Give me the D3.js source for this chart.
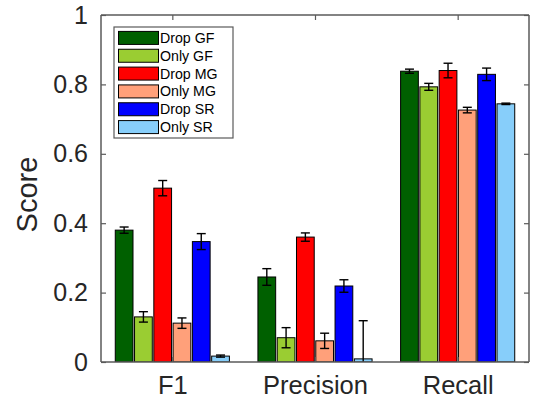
<!DOCTYPE html>
<html><head><meta charset="utf-8">
<script src="https://cdn.jsdelivr.net/npm/d3@7"></script>
<style>body{margin:0;background:#fff;} svg{display:block;font-family:"Liberation Sans",Arial,Helvetica,sans-serif;}</style>
</head><body>
<script>
const categories = ["F1", "Precision", "Recall"];
const seriesNames = ["Drop GF", "Only GF", "Drop MG", "Only MG", "Drop SR", "Only SR"];
const seriesColors = ["#006000", "#9acd32", "#ff0000", "#ffa07a", "#0000ff", "#87cefa"];
// values[series][category]
const dropGF = [0.380, 0.245, 0.838];
const onlyGF = [0.130, 0.070, 0.793];
const dropMG = [0.501, 0.360, 0.840];
const onlyMG = [0.112, 0.061, 0.726];
const dropSR = [0.347, 0.219, 0.829];
const onlySR = [0.017, 0.009, 0.744];
const errDropGF = [0.009, 0.024, 0.006];
const errOnlyGF = [0.015, 0.029, 0.010];
const errDropMG = [0.022, 0.012, 0.021];
const errOnlyMG = [0.015, 0.022, 0.008];
const errDropSR = [0.023, 0.018, 0.018];
const errOnlySR = [0.003, 0.110, 0.002];
const yTicks = [0, 0.2, 0.4, 0.6, 0.8, 1];

const values = [dropGF, onlyGF, dropMG, onlyMG, dropSR, onlySR];
const errors = [errDropGF, errOnlyGF, errDropMG, errOnlyMG, errDropSR, errOnlySR];

const W = 534, H = 406;
const x0 = 101, x1 = 529, yTop = 15, yBot = 362;
const textColor = "#262626";
const axisColor = "#5a5a5a";

const svg = d3.select("body").append("svg").attr("width", W).attr("height", H);

const x = d3.scaleLinear().domain([0.5, 3.5]).range([x0, x1]);
const y = d3.scaleLinear().domain([0, 1]).range([yBot, yTop]);
const groupW = (x(1.8) - x(1));
const inner = d3.scaleBand().domain(seriesNames).range([-groupW/2, groupW/2]).paddingInner(0.08).paddingOuter(0.0);

svg.append("clipPath").attr("id", "clip").append("rect")
  .attr("x", x0).attr("y", yTop).attr("width", x1 - x0).attr("height", yBot - yTop);

const plot = svg.append("g").attr("clip-path", "url(#clip)");

seriesNames.forEach((s, si) => {
  plot.selectAll(".bar" + si).data(categories).enter().append("rect")
    .attr("x", (c, ci) => x(ci + 1) + inner(s))
    .attr("y", (c, ci) => y(values[si][ci]))
    .attr("width", inner.bandwidth())
    .attr("height", (c, ci) => y(0) - y(values[si][ci]))
    .attr("fill", seriesColors[si])
    .attr("stroke", "#000").attr("stroke-width", 1);
});

const cap = 4.5;
seriesNames.forEach((s, si) => {
  categories.forEach((c, ci) => {
    const cx = x(ci + 1) + inner(s) + inner.bandwidth() / 2;
    const v = values[si][ci], e = errors[si][ci];
    const g = plot.append("g").attr("stroke", "#000").attr("stroke-width", 1.4);
    g.append("line").attr("x1", cx).attr("x2", cx).attr("y1", y(v - e)).attr("y2", y(v + e));
    g.append("line").attr("x1", cx - cap).attr("x2", cx + cap).attr("y1", y(v + e)).attr("y2", y(v + e));
    g.append("line").attr("x1", cx - cap).attr("x2", cx + cap).attr("y1", y(v - e)).attr("y2", y(v - e));
  });
});

const axL = svg.append("g").attr("transform", `translate(${x0},0)`)
  .call(d3.axisLeft(y).tickValues(yTicks).tickSize(-5).tickFormat(d3.format("")).tickPadding(13));
const axR = svg.append("g").attr("transform", `translate(${x1},0)`)
  .call(d3.axisRight(y).tickValues(yTicks).tickSize(-5).tickFormat(""));
const axB = svg.append("g").attr("transform", `translate(0,${yBot})`)
  .call(d3.axisBottom(x).tickValues([1, 2, 3]).tickSize(-5).tickFormat((d) => categories[d - 1]).tickPadding(14));
const axT = svg.append("g").attr("transform", `translate(0,${yTop})`)
  .call(d3.axisTop(x).tickValues([1, 2, 3]).tickSize(-5).tickFormat(""));

[axL, axR, axB, axT].forEach(a => {
  a.selectAll("path.domain").attr("stroke", axisColor).attr("stroke-width", 1.5);
  a.selectAll(".tick line").attr("stroke", axisColor).attr("stroke-width", 1.2);
  a.selectAll("text").attr("fill", textColor).attr("font-size", 25).attr("font-family", "Liberation Sans, Arial, sans-serif");
});
axL.select("path.domain").attr("d", `M0,${yBot}V${yTop}`);
axR.select("path.domain").attr("d", `M0,${yBot}V${yTop}`);
axB.select("path.domain").attr("d", `M${x0},0H${x1}`);
axT.select("path.domain").attr("d", `M${x0},0H${x1}`);
axB.selectAll("text").attr("font-size", 25.5);

svg.append("text").attr("transform", `translate(37,${(yTop + yBot) / 2 + 6}) rotate(-90)`)
  .attr("text-anchor", "middle").attr("fill", textColor).attr("font-size", 29).text("Score");

const lg = svg.append("g");
const lx = 114, ly = 27, lw = 119, lh = 111;
lg.append("rect").attr("x", lx).attr("y", ly).attr("width", lw).attr("height", lh)
  .attr("fill", "#fff").attr("stroke", axisColor).attr("stroke-width", 1.2);
const ls = d3.scaleBand().domain(seriesNames).range([ly + 2, ly + lh - 2]);
seriesNames.forEach((s, i) => {
  const yy = ls(s) + ls.bandwidth() / 2;
  lg.append("rect").attr("x", lx + 4.5).attr("y", yy - 6.5).attr("width", 40).attr("height", 13)
    .attr("fill", seriesColors[i]).attr("stroke", "#000").attr("stroke-width", 1);
  lg.append("text").attr("x", lx + 46).attr("y", yy + 5).attr("font-size", 14.2)
    .attr("fill", "#000").text(s);
});
</script>
</body></html>
